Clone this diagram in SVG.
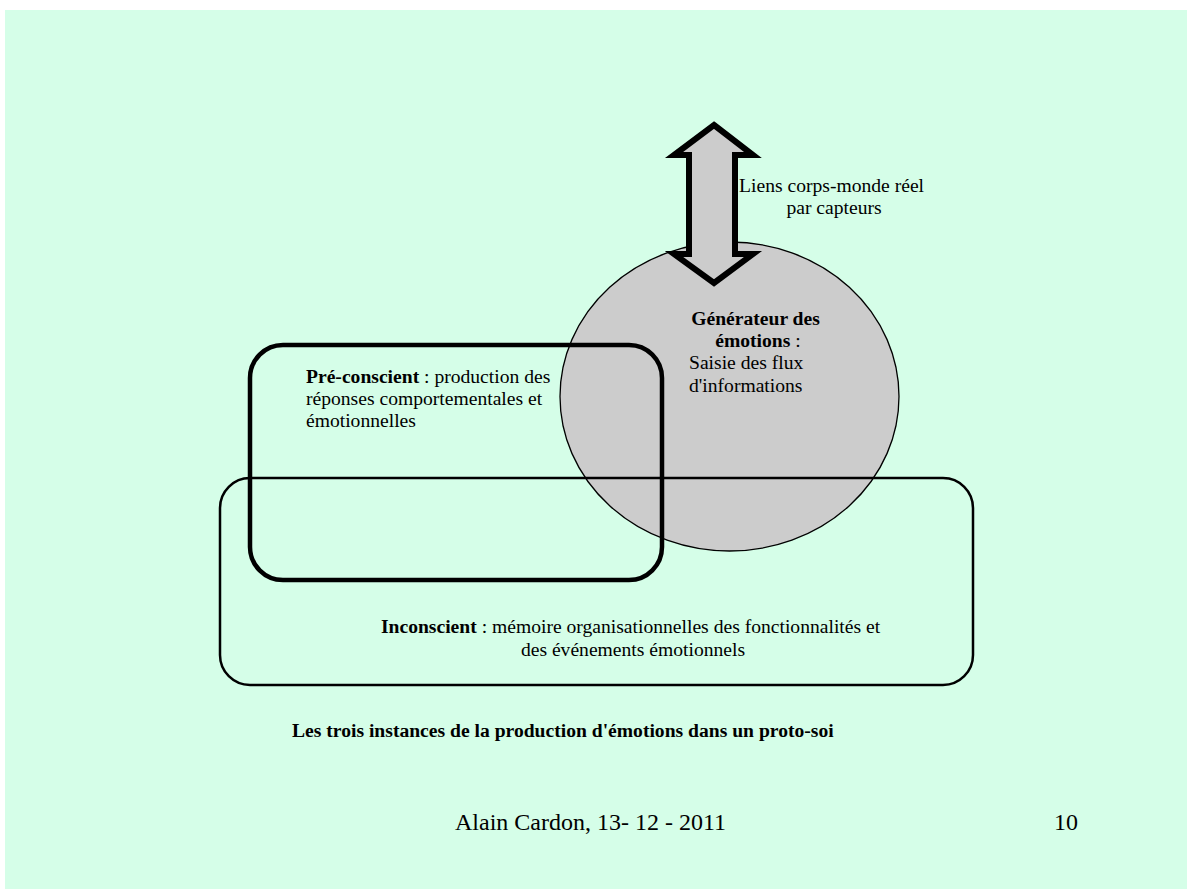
<svg xmlns="http://www.w3.org/2000/svg" width="1187" height="889" viewBox="0 0 1187 889">
  <style>
    .t { font-family: "Liberation Serif", "Times New Roman", serif; font-size: 19.6px; fill: #000; }
    .b { font-weight: bold; }
    .shape { fill: #CCCCCC; stroke: #000; }
    .frame { fill: none; stroke: #000; }
  </style>
  <!-- page -->
  <rect x="0" y="0" width="1187" height="889" fill="#FFFFFF"/>
  <rect x="5" y="10" width="1182" height="879" fill="#D5FEE8"/>

  <!-- emotion generator -->
  <g id="generateur">
    <ellipse class="shape" cx="729.5" cy="396.5" rx="169.5" ry="154.5" stroke-width="1.3"/>
  </g>

  <!-- body / real world link -->
  <g id="connectors">
    <path class="shape" stroke-width="6" stroke-linejoin="miter" stroke-miterlimit="8"
          d="M714,125 L753,155 L735,155 L735,254 L753,254 L714,283 L674,254 L689,254 L689,155 L674,155 Z"/>
  </g>

  <!-- unconscious -->
  <g id="inconscient">
    <rect class="frame" x="220" y="478" width="753" height="207" rx="30" ry="30" stroke-width="2.5"/>
    <text class="t" text-anchor="middle">
      <tspan x="633" y="633"><tspan class="b">Inconscient</tspan> : mémoire organisationnelles des fonctionnalités et</tspan>
      <tspan x="633" y="656">des événements émotionnels</tspan>
    </text>
  </g>

  <!-- pre-conscious -->
  <g id="preconscient">
    <rect class="frame" x="250" y="345" width="412" height="235" rx="33" ry="33" stroke-width="4.5"/>
    <text class="t">
      <tspan x="306" y="383"><tspan class="b">Pré-conscient</tspan> : production des</tspan>
      <tspan x="306" y="405">réponses comportementales et</tspan>
      <tspan x="306" y="427">émotionnelles</tspan>
    </text>
  </g>

  <!-- generator labels -->
  <g id="generateur-label">
    <text class="t" text-anchor="middle">
      <tspan class="b" x="758" y="325">Générateur des</tspan>
      <tspan x="758" y="347"><tspan class="b">émotions</tspan> :</tspan>
    </text>
    <text class="t">
      <tspan x="689" y="369">Saisie des flux</tspan>
      <tspan x="689" y="392">d'informations</tspan>
    </text>
  </g>

  <g id="liens-label">
    <text class="t" text-anchor="middle">
      <tspan x="834" y="192">Liens corps-monde réel</tspan>
      <tspan x="834" y="214">par capteurs</tspan>
    </text>
  </g>

  <!-- caption and footer -->
  <text class="t b" x="292" y="737" font-size="20">Les trois instances de la production d'émotions dans un proto-soi</text>
  <text class="t" x="455" y="830" style="font-size:24px">Alain Cardon, 13- 12 - 2011</text>
  <text class="t" x="1054" y="830" style="font-size:24px">10</text>
</svg>
